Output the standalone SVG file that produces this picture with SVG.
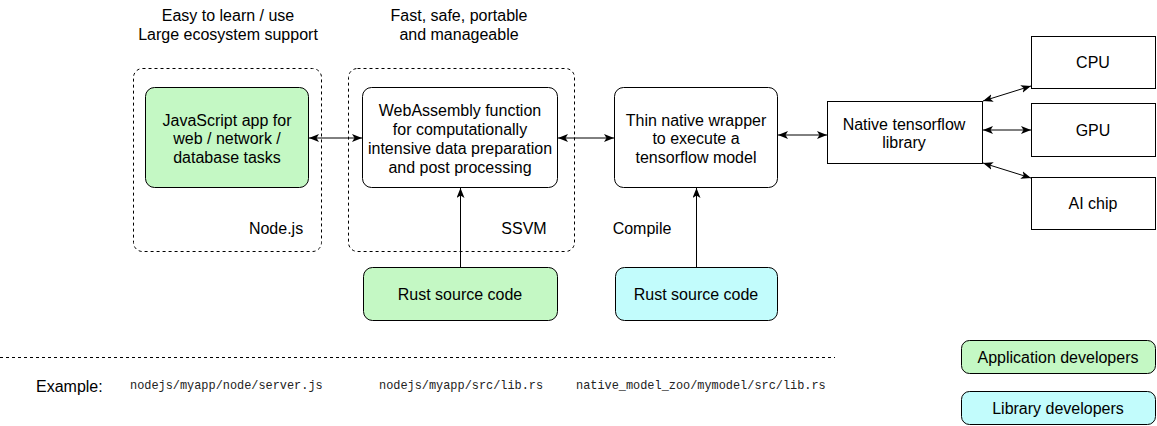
<svg xmlns="http://www.w3.org/2000/svg" width="1157" height="426" viewBox="0 0 1157 426">
<style>
text{font-family:"Liberation Sans",Arial,sans-serif;font-size:16px;fill:#000;text-anchor:middle}
.mono{font-family:"Liberation Mono","Courier New",monospace;font-size:11.9px;text-anchor:start;fill:#222}
.box{stroke:#000;stroke-width:1;fill:#fff}
.green{fill:#c4f8c4}
.blue{fill:#c2fcfc}
.cont{fill:none;stroke:#000;stroke-width:1;stroke-dasharray:3 3}
.con{stroke:#000;stroke-width:1;fill:none;marker-start:url(#a);marker-end:url(#a)}
.one{stroke:#000;stroke-width:1;fill:none;marker-end:url(#a)}
</style>
<defs>
<marker id="a" viewBox="0 0 10 8" refX="10" refY="4" markerWidth="10" markerHeight="8" markerUnits="userSpaceOnUse" orient="auto-start-reverse">
<path d="M0,0 L10,4 L0,8 L2.5,4 Z" fill="#000"/>
</marker>
</defs>
<rect width="1157" height="426" fill="#fff"/>
<g id="top-labels">
<text x="228" y="20.5">Easy to learn / use</text>
<text x="228" y="39.5">Large ecosystem support</text>
<text x="459" y="20.5">Fast, safe, portable</text>
<text x="459" y="39.5">and manageable</text>
</g>
<g id="nodejs">
<rect class="cont" x="133.5" y="68.5" width="188" height="183" rx="9"/>
<text x="276" y="233.5">Node.js</text>
</g>
<g id="ssvm">
<rect class="cont" x="348.5" y="68.5" width="226" height="183" rx="9"/>
<text x="524" y="233.5">SSVM</text>
</g>
<g id="jsapp">
<rect class="box green" x="145.5" y="87.5" width="163" height="100" rx="9"/>
<text x="227" y="125.5">JavaScript app for</text>
<text x="227" y="144">web / network /</text>
<text x="227" y="162.5">database tasks</text>
</g>
<g id="wasm">
<rect class="box" x="362.5" y="87.5" width="195" height="100" rx="9"/>
<text x="460" y="115.5">WebAssembly function</text>
<text x="460" y="134.5">for computationally</text>
<text x="460" y="153.5">intensive data preparation</text>
<text x="460" y="172.5">and post processing</text>
</g>
<g id="wrapper">
<rect class="box" x="614.5" y="87.5" width="163" height="100" rx="9"/>
<text x="696" y="125.5">Thin native wrapper</text>
<text x="696" y="144">to execute a</text>
<text x="696" y="162.5">tensorflow model</text>
</g>
<g id="tflib">
<rect class="box" x="827.5" y="101.5" width="155" height="62"/>
<text x="904" y="129.5">Native tensorflow</text>
<text x="904" y="148">library</text>
</g>
<g id="cpu">
<rect class="box" x="1031.5" y="36.5" width="124" height="52"/>
<text x="1093" y="67.5">CPU</text>
</g>
<g id="gpu">
<rect class="box" x="1031.5" y="103.5" width="124" height="53"/>
<text x="1093" y="135.5">GPU</text>
</g>
<g id="aichip">
<rect class="box" x="1031.5" y="177.5" width="124" height="52"/>
<text x="1093" y="208.5">AI chip</text>
</g>
<g id="rust-app">
<rect class="box green" x="363.5" y="267.5" width="194" height="53" rx="9"/>
<text x="460" y="299.5">Rust source code</text>
</g>
<g id="rust-lib">
<rect class="box blue" x="615.5" y="267.5" width="162" height="53" rx="9"/>
<text x="696" y="299.5">Rust source code</text>
</g>
<g id="compile-label">
<text x="642" y="233.5">Compile</text>
</g>
<g id="connectors">
<line class="con" x1="309" y1="138" x2="362" y2="138"/>
<line class="con" x1="558" y1="138" x2="614" y2="138"/>
<line class="con" x1="778" y1="135" x2="827" y2="135"/>
<line class="con" x1="983" y1="101" x2="1031" y2="86"/>
<line class="con" x1="983" y1="130" x2="1031" y2="130"/>
<line class="con" x1="983" y1="163" x2="1031" y2="178"/>
<line class="one" x1="460.5" y1="267" x2="460.5" y2="188"/>
<line class="one" x1="696.5" y1="267" x2="696.5" y2="188"/>
</g>
<g id="divider">
<line x1="0" y1="357.5" x2="835" y2="357.5" stroke="#000" stroke-width="1" stroke-dasharray="3 3"/>
</g>
<g id="examples">
<text x="36" y="392" style="text-anchor:start">Example:</text>
<text class="mono" x="130" y="389">nodejs/myapp/node/server.js</text>
<text class="mono" x="379" y="389">nodejs/myapp/src/lib.rs</text>
<text class="mono" x="576" y="389">native_model_zoo/mymodel/src/lib.rs</text>
</g>
<g id="legend-app">
<rect class="box green" x="961.5" y="340.5" width="194" height="33" rx="8"/>
<text x="1058" y="362.5">Application developers</text>
</g>
<g id="legend-lib">
<rect class="box blue" x="961.5" y="391.5" width="194" height="33" rx="8"/>
<text x="1058" y="413.5">Library developers</text>
</g>
</svg>
